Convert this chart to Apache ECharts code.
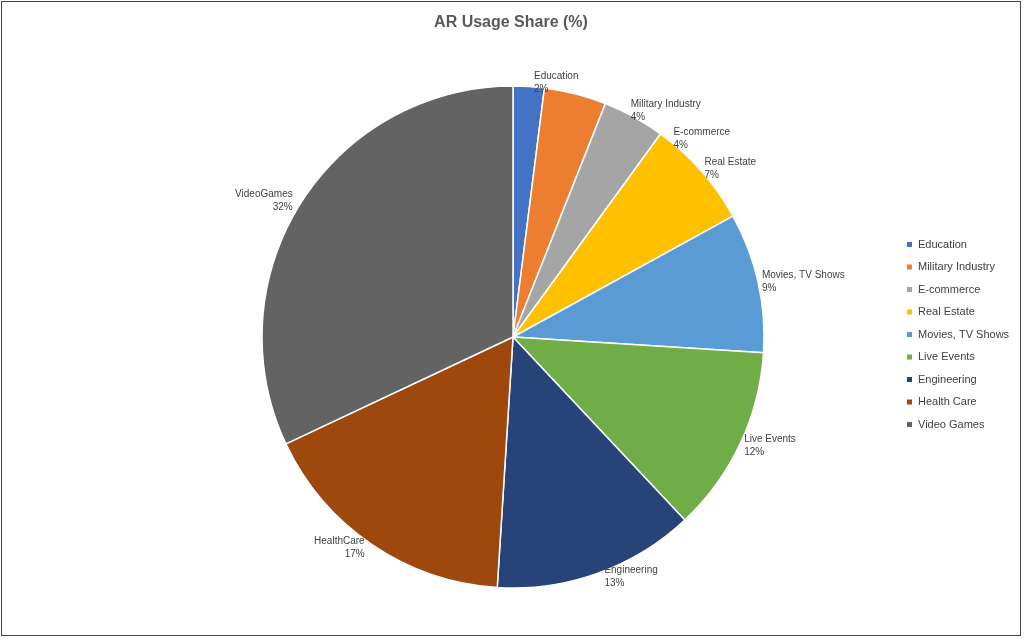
<!DOCTYPE html>
<html><head><meta charset="utf-8">
<script src="https://cdn.jsdelivr.net/npm/echarts@6/dist/echarts.min.js"></script>
<style>html,body{margin:0;padding:0;background:#fff}#c{position:absolute;left:1px;top:1px;width:1020px;height:635px;border:1px solid #444;box-sizing:border-box}</style>
</head><body><div id="c"></div>
<script>
const categories = ['Education','Military Industry','E-commerce','Real Estate','Movies, TV Shows','Live Events','Engineering','Health Care','Video Games'];
const values = [2,4,4,7,9,12,13,17,32];
const colors = ['#4472C4','#ED7D31','#A5A5A5','#FFC000','#5B9BD5','#70AD47','#264478','#9E480E','#636363'];
const chart = echarts.init(document.getElementById('c'));
chart.setOption({
  animation:false,
  title:{text:'AR Usage Share (%)',left:'center',top:8,textStyle:{fontFamily:'Liberation Sans',fontSize:16,fontWeight:'bold',color:'#595959'}},
  legend:{orient:'vertical',left:898,top:232,itemWidth:7,itemHeight:7,itemGap:11.5,icon:'rect',
    textStyle:{fontFamily:'Liberation Sans',fontSize:11,color:'#404040'},data:categories},
  series:[{type:'pie',center:[511,335],radius:[0,251],startAngle:90,clockwise:true,
    itemStyle:{borderColor:'#fff',borderWidth:1.5},
    label:{show:true,position:'outside',formatter:p=>p.name.replace('Video Games','VideoGames').replace('Health Care','HealthCare')+'\n'+p.value+'%',
      fontFamily:'Liberation Sans',fontSize:10,color:'#404040',lineHeight:13,align:'center'},
    labelLine:{show:false,length:4,length2:0},
    data:categories.map((n,i)=>({name:n,value:values[i],itemStyle:{color:colors[i]}}))}]
});
</script></body></html>
